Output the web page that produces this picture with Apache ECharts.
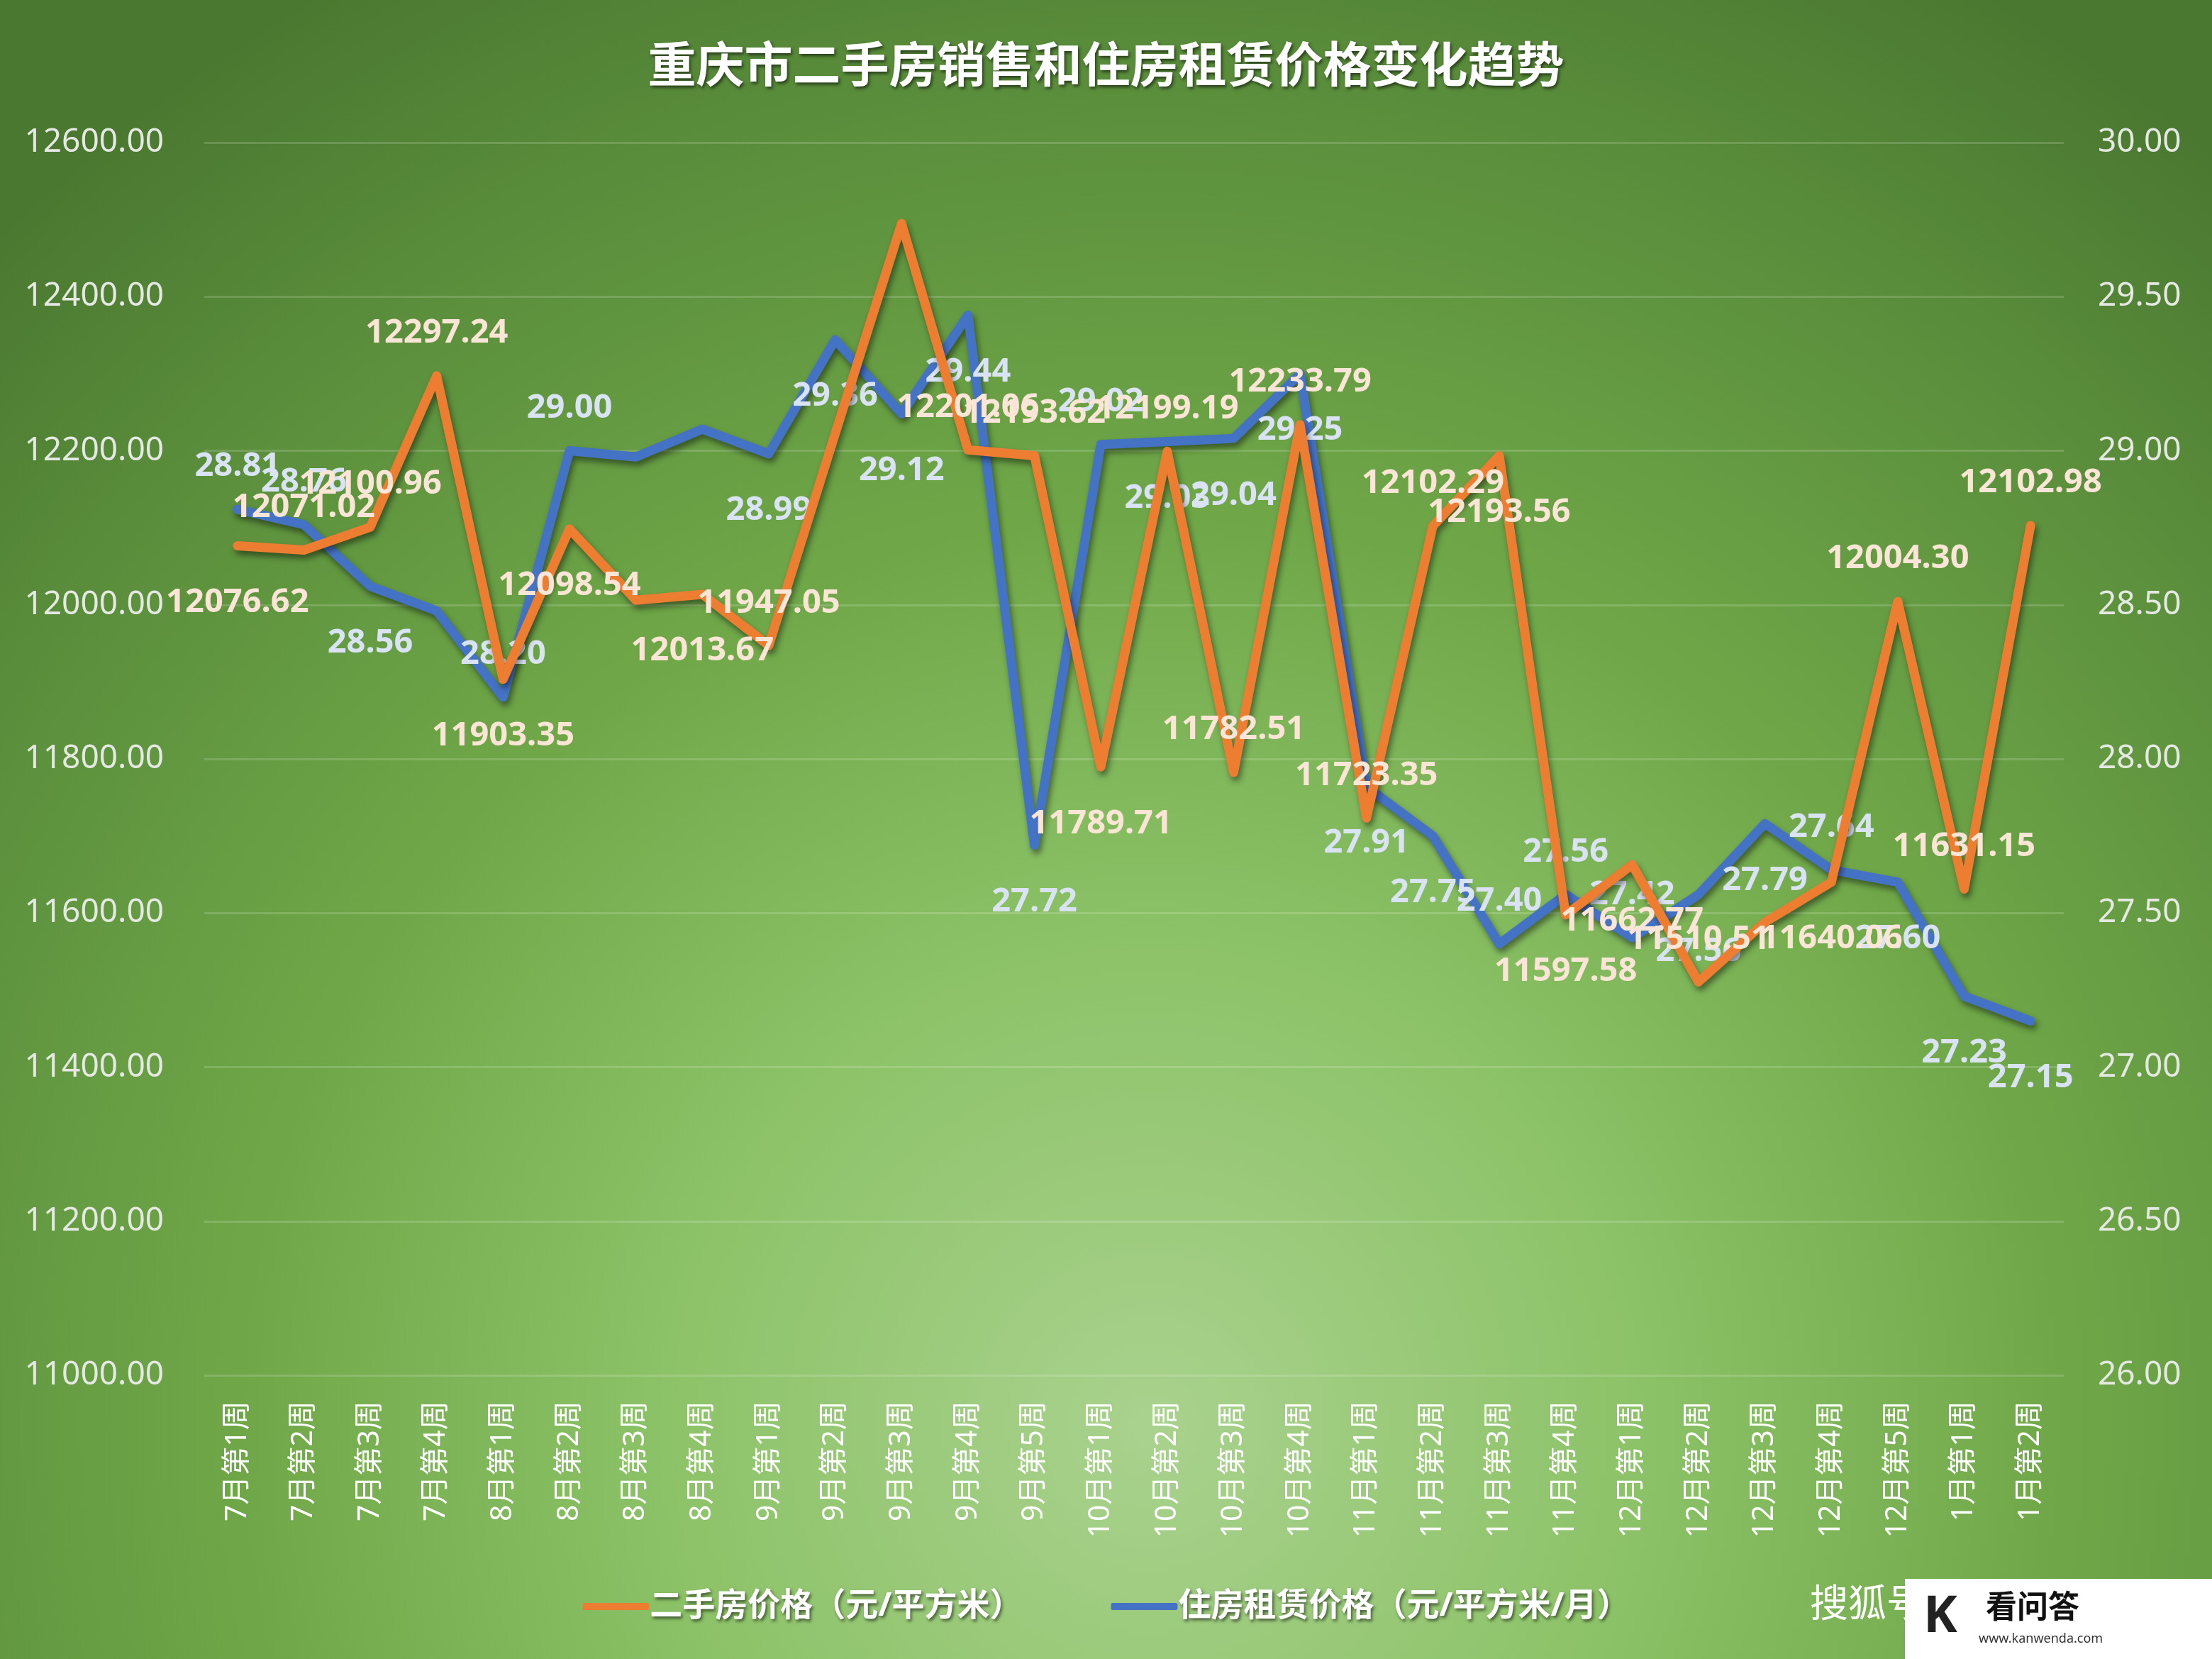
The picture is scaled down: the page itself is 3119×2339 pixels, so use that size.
<!DOCTYPE html>
<html>
<head>
<meta charset="utf-8">
<script src="https://cdn.jsdelivr.net/npm/echarts@6/dist/echarts.min.js"></script>
<style>
  html, body { margin: 0; padding: 0; }
  #chart { width: 3119px; height: 2339px; }
</style>
</head>
<body>
<div id="chart"></div>
<script>
// 周次
const weeks = ['7月第1周','7月第2周','7月第3周','7月第4周','8月第1周','8月第2周','8月第3周','8月第4周',
  '9月第1周','9月第2周','9月第3周','9月第4周','9月第5周','10月第1周','10月第2周','10月第3周','10月第4周',
  '11月第1周','11月第2周','11月第3周','11月第4周','12月第1周','12月第2周','12月第3周','12月第4周','12月第5周',
  '1月第1周','1月第2周'];

// 二手房价格（元/平方米）
const salePrice = [12076.62, 12071.02, 12100.96, 12297.24, 11903.35, 12098.54, 12006.00, 12013.67,
  11947.05, 12222.00, 12495.00, 12201.06, 12193.62, 11789.71, 12199.19, 11782.51, 12233.79,
  11723.35, 12102.29, 12193.56, 11597.58, 11662.77, 11510.51, 11588.00, 11640.06, 12004.30,
  11631.15, 12102.98];

// 住房租赁价格（元/平方米/月）
const rentPrice = [28.81, 28.76, 28.56, 28.48, 28.20, 29.00, 28.98, 29.07,
  28.99, 29.36, 29.12, 29.44, 27.72, 29.02, 29.03, 29.04, 29.25,
  27.91, 27.75, 27.40, 27.56, 27.42, 27.56, 27.79, 27.64, 27.60,
  27.23, 27.15];

// 标签位置 ('' = 不显示)
const saleLabelPos = ['bottom','top','top','top','bottom','bottom','','bottom','top','','','top','top','bottom',
  'top','top','top','top','top','bottom','bottom','bottom','top','','bottom','top','top','top'];
const rentLabelPos = ['top','top','bottom','','top','top','','','bottom','bottom','bottom','bottom','bottom','top',
  'bottom','bottom','bottom','bottom','bottom','top','top','top','bottom','bottom','top','bottom','bottom','bottom'];

const FONT = '"Noto Sans", "Noto Sans CJK SC", sans-serif';
const shadowText = {
  textShadowColor: 'rgba(0,0,0,0.55)', textShadowBlur: 4, textShadowOffsetX: 2, textShadowOffsetY: 3
};

function withLabels(values, positions) {
  return values.map((v, i) => ({
    value: v,
    label: positions[i]
      ? { show: true, position: positions[i], distance: positions[i] === 'bottom' ? 56 : 36 }
      : { show: false }
  }));
}

const chart = echarts.init(document.getElementById('chart'));

chart.setOption({
  backgroundColor: {
    type: 'radial', x: 0.52, y: 0.86, r: 1.0,
    colorStops: [
      { offset: 0, color: '#a9d28e' },
      { offset: 0.3, color: '#8cc267' },
      { offset: 0.55, color: '#6fa748' },
      { offset: 0.8, color: '#5b8f3c' },
      { offset: 1, color: '#4a7830' }
    ]
  },
  textStyle: { fontFamily: FONT },
  title: {
    text: '重庆市二手房销售和住房租赁价格变化趋势',
    left: 'center',
    top: 58,
    textStyle: Object.assign({ color: '#ffffff', fontSize: 68, fontWeight: 'bold', fontFamily: FONT }, shadowText)
  },
  legend: {
    bottom: 46,
    left: 'center',
    itemWidth: 94,
    itemHeight: 10,
    itemGap: 125,
    icon: 'roundRect',
    textStyle: Object.assign({ color: '#ffffff', fontSize: 46, fontWeight: 'bold', fontFamily: FONT, padding: [0, 0, 0, -4] }, shadowText),
    data: ['二手房价格（元/平方米）', '住房租赁价格（元/平方米/月）']
  },
  grid: { left: 288, right: 209, top: 201, bottom: 400, containLabel: false },
  xAxis: {
    type: 'category',
    data: weeks,
    boundaryGap: true,
    axisLine: { show: false },
    axisTick: { show: false },
    axisLabel: { rotate: 90, color: '#ffffff', fontSize: 41, margin: 36, fontFamily: FONT }
  },
  yAxis: [
    {
      type: 'value', min: 11000, max: 12600, interval: 200,
      axisLine: { show: false }, axisTick: { show: false },
      axisLabel: { color: '#e6e9e3', fontSize: 46, margin: 57, formatter: v => v.toFixed(2) },
      splitLine: { lineStyle: { color: 'rgba(255,255,255,0.16)', width: 3 } }
    },
    {
      type: 'value', min: 26, max: 30, interval: 0.5,
      axisLine: { show: false }, axisTick: { show: false },
      axisLabel: { color: '#e6e9e3', fontSize: 46, margin: 48, formatter: v => v.toFixed(2) },
      splitLine: { show: false }
    }
  ],
  series: [
    {
      name: '二手房价格（元/平方米）',
      type: 'line',
      yAxisIndex: 0,
      data: withLabels(salePrice, saleLabelPos),
      symbol: 'circle',
      symbolSize: 1,
      showSymbol: true,
      color: '#ed7d31',
      itemStyle: { color: '#ed7d31' },
      lineStyle: {
        width: 13, color: '#ed7d31', cap: 'round', join: 'round',
        shadowColor: 'rgba(0,0,0,0.45)', shadowBlur: 8, shadowOffsetX: 3, shadowOffsetY: 6
      },
      label: {
        color: '#fbe5d6', fontSize: 47, fontWeight: 'bold',
        formatter: p => p.value.toFixed(2)
      },
      labelLayout: { hideOverlap: false },
      z: 3
    },
    {
      name: '住房租赁价格（元/平方米/月）',
      type: 'line',
      yAxisIndex: 1,
      data: withLabels(rentPrice, rentLabelPos),
      symbol: 'circle',
      symbolSize: 1,
      showSymbol: true,
      color: '#4472c4',
      itemStyle: { color: '#4472c4' },
      lineStyle: {
        width: 13, color: '#4472c4', cap: 'round', join: 'round',
        shadowColor: 'rgba(0,0,0,0.45)', shadowBlur: 8, shadowOffsetX: 3, shadowOffsetY: 6
      },
      label: {
        color: '#dae3f3', fontSize: 47, fontWeight: 'bold',
        formatter: p => p.value.toFixed(2)
      },
      labelLayout: { hideOverlap: false },
      z: 2
    }
  ],
  graphic: [
    {
      type: 'text', left: 2552, top: 2238,
      style: {
        text: '搜狐号@阿司数据', fill: '#ffffff', fontSize: 54, fontFamily: FONT,
        shadowColor: 'rgba(0,0,0,0.6)', shadowBlur: 3, shadowOffsetX: 3, shadowOffsetY: 3
      },
      z: 10
    },
    {
      type: 'rect', shape: { x: 2686, y: 2226, width: 440, height: 120 },
      style: { fill: '#ffffff' }, z: 11
    },
    {
      type: 'text', left: 2712, top: 2244,
      style: { text: 'K', fill: '#222222', fontSize: 72, fontWeight: 'bold', fontFamily: FONT }, z: 12
    },
    {
      type: 'text', left: 2800, top: 2246,
      style: { text: '看问答', fill: '#111111', fontSize: 44, fontWeight: 'bold', fontFamily: FONT }, z: 12
    },
    {
      type: 'text', left: 2790, top: 2302,
      style: { text: 'www.kanwenda.com', fill: '#333333', fontSize: 18, fontFamily: FONT }, z: 12
    }
  ]
});
</script>
</body>
</html>
